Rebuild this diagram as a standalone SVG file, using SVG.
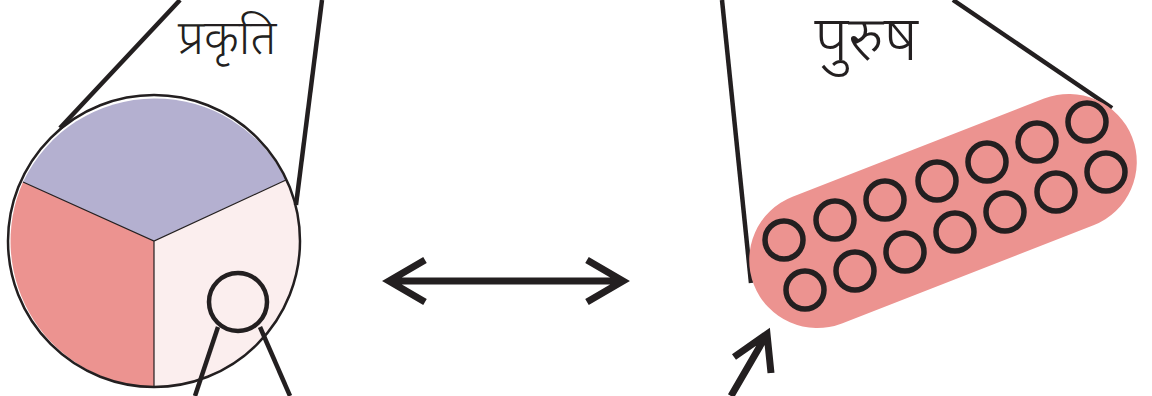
<svg xmlns="http://www.w3.org/2000/svg" width="1152" height="396" viewBox="0 0 1152 396">
<style>
.ln{stroke:#231f20;stroke-width:4.5;fill:none;stroke-linecap:butt}
.arw{stroke:#231f20;stroke-width:7;fill:none;stroke-linecap:butt;stroke-linejoin:miter}
.bead{fill:none;stroke:#231f20;stroke-width:5.5}
.lbl{font-family:"Noto Sans Devanagari","Noto Sans","Lohit Devanagari",sans-serif;fill:#231f20;text-anchor:middle;font-weight:300}
</style>
<rect width="1152" height="396" fill="#ffffff"/>
<g id="prakriti">
<path d="M154,241 L23,182 A146,146 0 0 1 286,180 Z" fill="#b4b0d0"/>
<path d="M154,241 L23,182 A146,146 0 0 0 154,387 Z" fill="#ec9390"/>
<path d="M154,241 L286,180 A146,146 0 0 1 154,387 Z" fill="#fbeeee"/>
<path d="M23,182 L154,241 L286,180 M154,241 L154,387" stroke="#231f20" stroke-width="1.2" fill="none"/>
<circle cx="154" cy="241" r="146" fill="none" stroke="#231f20" stroke-width="2.5"/>
<line class="ln" x1="60" y1="128" x2="180" y2="0"/>
<line class="ln" x1="296" y1="205" x2="322" y2="0"/>
<circle cx="238" cy="302" r="29" fill="#fbeeee" stroke="#231f20" stroke-width="4.5"/>
<line class="ln" x1="218" y1="327" x2="195" y2="396"/>
<line class="ln" x1="260" y1="327" x2="290" y2="396"/>
<text class="lbl" x="227" y="54" font-size="48">प्रकृति</text>
</g>
<g id="purusha">
<line class="ln" x1="722" y1="0" x2="751" y2="283"/>
<line class="ln" x1="953" y1="0" x2="1112" y2="108"/>
<rect x="740" y="143" width="406" height="136" rx="68" ry="68" fill="#ec9390" transform="rotate(-21.3 943 211)"/>
<g class="beads">
<circle class="bead" cx="784" cy="240" r="19"/>
<circle class="bead" cx="835" cy="220" r="19"/>
<circle class="bead" cx="885" cy="200" r="19"/>
<circle class="bead" cx="937" cy="181" r="19"/>
<circle class="bead" cx="987" cy="162" r="19"/>
<circle class="bead" cx="1037" cy="142" r="19"/>
<circle class="bead" cx="1087" cy="122" r="19"/>
<circle class="bead" cx="805" cy="290" r="19"/>
<circle class="bead" cx="855" cy="271" r="19"/>
<circle class="bead" cx="905" cy="252" r="19"/>
<circle class="bead" cx="955" cy="232" r="19"/>
<circle class="bead" cx="1005" cy="212" r="19"/>
<circle class="bead" cx="1056" cy="192" r="19"/>
<circle class="bead" cx="1106" cy="172" r="19"/>
</g>
<text class="lbl" x="866" y="60" font-size="62">पुरुष</text>
</g>
<g id="connectors">
<path class="arw" d="M389,281 L623,281 M425,260 L389,281 L425,302 M587,260 L623,281 L587,302"/>
<path class="arw" d="M731,396 L767,334 M734,357 L767,334 L771,373"/>
</g>
</svg>
